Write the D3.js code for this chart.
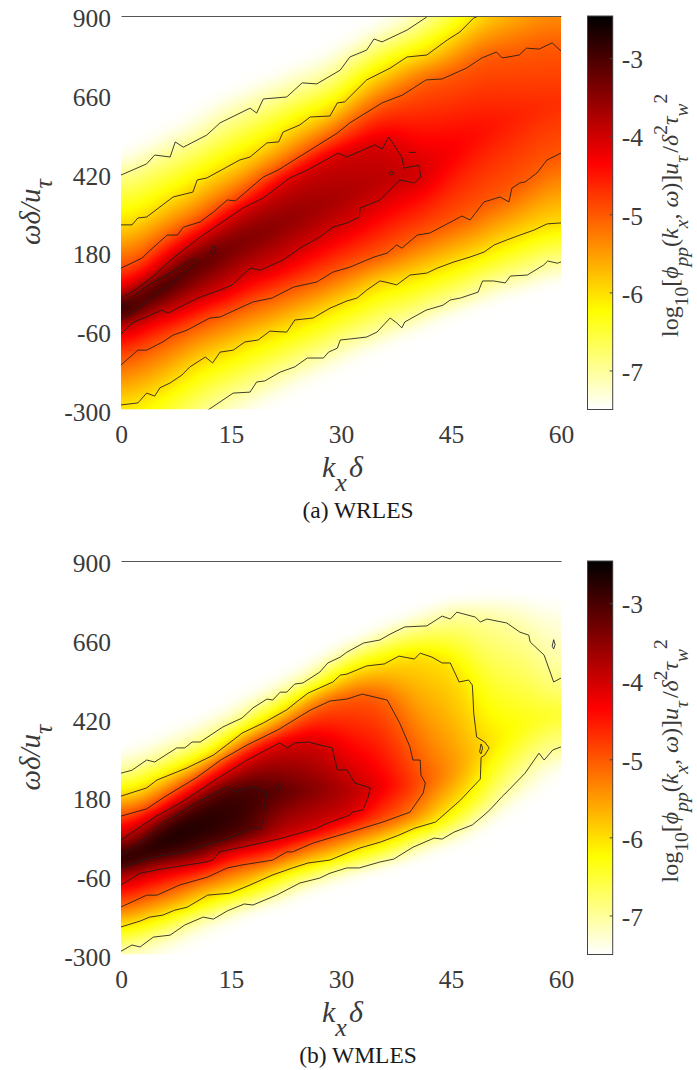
<!DOCTYPE html>
<html><head><meta charset="utf-8">
<script src="https://cdn.jsdelivr.net/npm/d3@7"></script>
<style>html,body{margin:0;padding:0;background:#fff}svg{display:block}text{font-family:"Liberation Serif",serif}</style>
</head><body><svg id="c" width="697" height="1070"></svg>
<script>
// ---------- axis content ----------
const kTicks=[0,15,30,45,60];
const wTicks=[-300,-60,180,420,660,900];
const barTicks=[-7,-6,-5,-4,-3];
const barDomain=[-7.5,-2.46];
const captions=["(a) WRLES","(b) WMLES"];
// hot colormap, reversed: value stops and colours
const colorStops=[-7.5,-6.24,-4.35,-2.46];
const colorHues=["#ffffff","#ffff00","#ff0000","#000000"];

// ---------- (a) WRLES: contour crossings [k, omega] ----------
const aEdgeUp=[[0,470],[15,670],[30,810],[42,975],[60,1240]];
const aEdgeLo=[[0,-540],[15,-340],[30,-165],[45,-15],[60,95]];
const aUp7=[[0,415],[3.5,449],[4.6,476],[6.7,470],[7.4,516],[8.5,500],[11.7,537],[13.5,574],[17.6,619],[18.5,604],[19.4,647],[22.6,653],[24.7,696],[26.7,693],[29.9,735],[31.2,775],[33.5,796],[34.5,830],[35.6,821],[39,857],[41.7,897],[60,1170]];
const aLo7=[[0,-480],[12.1,-298],[13.5,-277],[15.3,-250],[17.6,-247],[18.5,-216],[19.6,-213],[21.7,-186],[23.7,-170],[25.4,-143],[27.6,-143],[28.3,-125],[29.5,-113],[29.9,-88],[31.2,-85],[33.5,-79],[34.9,-64],[36.7,-21],[37.6,-36],[38.3,-51],[38.7,-33],[41.6,3],[43.9,18],[44.9,34],[46.3,40],[48.7,58],[49.3,92],[50.8,92],[52.4,86],[53.1,107],[55.4,110],[57.6,140],[58.2,153],[59.5,146],[60,150]];
const aUp6=[[0,263],[1.5,263],[2.3,284],[3.5,287],[7.1,348],[9.8,363],[10.4,400],[11.7,406],[16.2,461],[17.6,470],[19.9,513],[21.5,516],[22.1,546],[24.4,568],[25.8,592],[28.5,595],[29.5,635],[30.5,638],[33.5,705],[36.7,741],[39,775],[41.7,781],[44.5,827],[46.2,851],[48.1,894],[49.4,905],[60,1070]];
const aLo6=[[0,-286],[2.3,-280],[3.5,-250],[4.6,-259],[5.3,-234],[6.7,-219],[8.3,-195],[9.4,-170],[11.5,-140],[12.5,-158],[13.5,-125],[15.3,-119],[16.9,-94],[18.7,-88],[20.3,-61],[22.6,-64],[23.7,-27],[26.2,-21],[28.5,9],[30.8,31],[32.2,40],[33.5,64],[35.3,92],[36,89],[37.6,80],[39.4,110],[41.7,116],[43.1,131],[45.4,150],[47.6,165],[49.5,180],[50.9,202],[52.6,217],[54.4,232],[56.3,247],[58.1,266],[60,269]];
const aUp5=[[0,131],[2.9,162],[3.7,180],[6.3,232],[7.7,232],[8.5,256],[10.8,272],[12.6,302],[14.5,339],[15.6,336],[19.4,409],[21.4,430],[24.7,476],[29.5,543],[31.2,574],[35.6,635],[38.4,659],[41.6,705],[43.8,708],[47.1,741],[49.2,772],[51.2,790],[52,772],[54.3,781],[55.3,802],[57,799],[58.8,818],[60,793]];
const aLo5=[[0,-164],[2.3,-119],[3.5,-119],[5.7,-94],[7.1,-73],[9,-58],[12.1,-21],[13.5,-18],[18,28],[20.6,40],[23.5,73],[26.7,89],[28.9,119],[31.2,134],[34.5,165],[36.3,177],[37.6,202],[38.3,192],[40.4,232],[42.1,238],[46.5,290],[47.6,278],[49.5,333],[51.7,348],[52.9,333],[53.3,375],[54.4,391],[55.1,394],[56.7,421],[58.1,461],[60,482]];
const aUp4=[[0,40],[1.9,64],[4.6,110],[7.1,162],[10.8,226],[16.6,314],[19.4,345],[23,406],[25.4,430],[29.6,482],[30.8,470],[34.6,507],[35.6,494],[36.5,531],[38.3,470],[38.6,436],[40.6,445],[40.9,409]];
const aLo4=[[0,-70],[1.5,-36],[5.6,3],[6.4,-6],[10.5,40],[13.8,67],[15.1,79],[17.6,131],[19,125],[22.1,156],[24.4,192],[27.1,226],[28.9,256],[30.8,269],[32.5,287],[32.6,314],[35.3,339],[38,400],[40,391],[40.9,409]];
const aUp3=[[0,9],[1.9,49],[3.7,80],[7,119],[9.8,159],[10.5,150]];
const aLo3=[[0,-27],[1,-12],[2.9,19],[4.6,49],[7,86],[10.5,150]];
const aRidgeK=[0,3,6,10.5,15,20,25,30,36,40.9,45,50,55,60];
const aRidgeW=[-8,40,85,150,195,250,300,355,400,409,490,560,600,640];
const aRidgeV=[-2.6,-2.55,-2.7,-3,-3.25,-3.4,-3.55,-3.7,-3.85,-4,-4.25,-4.45,-4.6,-4.7];
const aLoops=[[[12.2,180],[12.6,200],[13,190],[12.6,172],[12.2,180]],[[36.6,420],[36.9,428],[37.2,420],[36.9,413],[36.6,420]],[[39.3,484],[40.2,484]]];

// ---------- (b) WMLES ----------
const bEdgeUp=[[0,315],[15,460],[30,640],[40,745],[45,790],[52,800],[60,780]];
const bEdgeLo=[[0,-340],[5,-310],[15,-195],[30,-75],[45,30],[50,120],[55,180],[60,280]];
const bUp7=[[0,253],[1.5,262],[3.5,293],[4.6,287],[7.6,330],[8.7,330],[9.7,348],[10.8,348],[13.9,394],[16.5,421],[18,452],[19.9,479],[20.7,476],[21.7,500],[22.6,500],[23.7,525],[24.8,528],[27.1,561],[28.2,589],[29.9,607],[30.8,622],[33.1,650],[35.3,659],[36.7,677],[38.7,699],[41.7,702],[43.8,732],[44.9,723],[45.8,744],[48.3,729],[49,714],[49.9,723],[52.6,711],[54.4,683],[55.6,674],[55.8,653],[57.7,613],[59,531],[60,543]];
const bLo7=[[0,-290],[1.5,-271],[2.6,-277],[4.4,-247],[6.7,-241],[8.7,-210],[11.2,-186],[12.6,-192],[14.5,-167],[16.8,-146],[18,-149],[21.2,-119],[24.4,-82],[27.1,-67],[28.5,-52],[30.8,-36],[32.5,-36],[35.3,-18],[37.2,-9],[39.8,27],[42.7,55],[43.8,52],[45.4,73],[47.9,95],[49.5,125],[50.3,141],[51.9,180],[52.9,202],[55.1,253],[57,314],[57.7,293],[58.9,324],[60,333]];
const bUp6=[[0,183],[3.5,208],[4.9,232],[9,269],[12.6,308],[15.3,354],[16.5,375],[19.4,406],[22.6,446],[24.1,473],[25.5,497],[28.9,531],[29.9,552],[30.8,555],[33.5,580],[35.9,586],[37.9,610],[40,601],[40.8,619],[42.4,607],[43.8,589],[44.9,589],[45.8,546],[46.1,531],[47.4,537],[47.9,522],[48,484],[48.1,436],[48.5,363],[49.6,348],[50.2,330]];
const bLo6=[[0,-216],[2.6,-198],[3.9,-186],[5.7,-180],[7.3,-165],[9,-156],[11.8,-119],[14.9,-113],[17.6,-88],[20.6,-58],[23.4,-36],[25.5,-21],[28.5,-12],[31.2,13],[32.6,25],[35.4,43],[37.9,64],[40,85],[42.9,104],[46.3,171],[47.6,202],[49,235],[49.05,268],[49.1,301],[49.6,308],[50.2,330]];
const bUp5=[[0,122],[3.5,144],[5.9,180],[10.4,241],[13.6,293],[17.2,339],[21.4,385],[25.8,445],[28.5,473],[30.8,479],[32.9,494],[36.3,476],[38,406],[39.4,333],[39.8,293],[40.8,293],[40.9,247],[41.5,223]];
const bLo5=[[0,-155],[3.5,-119],[4.9,-119],[8,-88],[11.8,-64],[14.5,-36],[16.5,-27],[20.7,-12],[22.6,13],[23.4,13],[26.2,40],[28.9,58],[31.2,73],[35.7,104],[39.4,134],[41.2,192],[41.5,223]];
const bUp4=[[0,49],[4.6,119],[8.3,165],[12.8,232],[17.2,293],[21.6,345],[22.7,330],[23.7,345],[25.5,348],[28.8,330],[29.5,263],[30.8,263],[31.9,223],[34,208]];
const bLo4=[[0,-88],[2.6,-52],[5.3,-40],[11.6,-18],[12.5,-12],[13.4,13],[17.9,34],[22,55],[26.7,85],[28.2,101],[31.2,125],[31.5,134],[33,141],[33.7,180],[34,208]];
const bUp3=[[0,3],[1.9,28],[6,104],[10.5,165],[14.6,211],[15.5,195],[17.9,211],[19.9,192]];
const bLo3=[[0,-36],[3.7,-6],[8.3,12],[15.1,58],[18,88],[19,83],[19.4,110],[19.5,147],[19.9,192]];
const bRidgeK=[0,5,10,15,19.9,25,30,34,38,41.5,46,50.2,55,60];
const bRidgeW=[-15,45,90,135,192,200,205,208,215,223,270,330,400,440];
const bRidgeV=[-2.6,-2.55,-2.65,-2.8,-3,-3.35,-3.7,-4,-4.55,-5,-5.5,-6,-6.3,-6.5];
const bLoops=[[[21.2,205],[21.5,222],[21.8,210],[21.5,200],[21.2,205]],[[58.8,640],[59,660],[59.2,645],[59,632],[58.8,640]],[[48.9,318],[49.1,342],[49.3,330],[49.1,312],[48.9,318]]];

// ---------- layout ----------
const plotLeft=121, plotRight=561, plotH=393.5, barLeft=587.5, barRight=612.7;
const panels=[
 {top:16, off:0, cap:captions[0], id:"a", capX:358,
  bands:[[-7.5,aEdgeLo,aEdgeUp],[-7,aLo7,aUp7],[-6,aLo6,aUp6],[-5,aLo5,aUp5],[-4,aLo4,aUp4],[-3,aLo3,aUp3]],
  rk:aRidgeK,rw:aRidgeW,rv:aRidgeV,loops:aLoops},
 {top:561, off:545.4, cap:captions[1], id:"b", capX:358,
  bands:[[-7.5,bEdgeLo,bEdgeUp],[-7,bLo7,bUp7],[-6,bLo6,bUp6],[-5,bLo5,bUp5],[-4,bLo4,bUp4],[-3,bLo3,bUp3]],
  rk:bRidgeK,rw:bRidgeW,rv:bRidgeV,loops:bLoops}
];
const hot=d3.scaleLinear().domain(colorStops).range(colorHues).clamp(true);
const svg=d3.select("#c");
const ink="#3a3a3a";
const x=d3.scaleLinear().domain([0,60]).range([plotLeft,plotRight]);

function rich(parent,px,py,rot,parts){
  const g=parent.append("text").attr("transform",`translate(${px},${py}) rotate(${rot})`).attr("fill",ink);
  let cur=0;
  parts.forEach(p=>{
    const t=g.append("tspan").text(p.t).attr("font-size",p.s).attr("dy",(p.d||0)-cur).attr("dx",p.g||0);
    if(p.i)t.attr("font-style","italic");
    cur=p.d||0;
  });
  return g;
}
function scaleOf(arr){return d3.scaleLinear().domain(arr.map(p=>p[0])).range(arr.map(p=>p[1]));}

panels.forEach(P=>{
  const y=d3.scaleLinear().domain([-300,900]).range([P.top+plotH,P.top]);
  const root=svg.append("g").attr("class","panel-"+P.id);
  const clipId="clip"+P.id;
  root.append("clipPath").attr("id",clipId).append("rect")
    .attr("x",plotLeft).attr("y",P.top).attr("width",plotRight-plotLeft).attr("height",plotH);

  // heat field: each column built from that column's contour crossings
  const cols=146, rows=131;
  const grid=new Float64Array(cols*rows);
  const scales=P.bands.map(b=>({v:b[0],lo:scaleOf(b[1]),up:scaleOf(b[2]),loEnd:b[1][b[1].length-1][0],upEnd:b[2][b[2].length-1][0]}));
  const rW=d3.scaleLinear().domain(P.rk).range(P.rw), rV=d3.scaleLinear().domain(P.rk).range(P.rv);
  for(let i=0;i<cols;i++){
    const k=x.invert(plotLeft+(i+.5)/cols*(plotRight-plotLeft));
    const mid=rW(k), pts=[{w:mid,v:rV(k)}];
    scales.forEach(s=>{
      if(k<=s.loEnd){const w=s.lo(k);if(w<mid)pts.push({w,v:s.v});}
      if(k<=s.upEnd){const w=s.up(k);if(w>mid)pts.push({w,v:s.v});}
    });
    pts.sort((a,b)=>a.w-b.w);
    const col=d3.scaleLinear().domain(pts.map(p=>p.w)).range(pts.map(p=>p.v)).clamp(true);
    for(let j=0;j<rows;j++){
      grid[j*cols+i]=col(y.invert(P.top+(j+.5)/rows*plotH));
    }
  }
  d3.blur2({data:grid,width:cols,height:rows},4,1);
  const cv=document.createElement("canvas");cv.width=cols;cv.height=rows;
  const ctx=cv.getContext("2d");const img=ctx.createImageData(cols,rows);
  grid.forEach((v,n)=>{const c=d3.rgb(hot(v));const o=n*4;img.data[o]=c.r;img.data[o+1]=c.g;img.data[o+2]=c.b;img.data[o+3]=255;});
  ctx.putImageData(img,0,0);
  root.append("image").attr("href",cv.toDataURL()).attr("x",plotLeft).attr("y",P.top)
    .attr("width",plotRight-plotLeft).attr("height",plotH).attr("preserveAspectRatio","none")
    .attr("clip-path",`url(#${clipId})`);

  // contour lines
  const path=d3.line().x(d=>x(d[0])).y(d=>y(d[1]));
  const lines=root.append("g").attr("clip-path",`url(#${clipId})`).attr("fill","none").attr("stroke","#1c1c1c").attr("stroke-width",0.85);
  P.bands.filter(b=>b[0]>-7.5).forEach(b=>{
    lines.append("path").attr("d",path(b[1]));
    lines.append("path").attr("d",path(b[2]));
  });
  P.loops.forEach(l=>lines.append("path").attr("d",path(l)));

  // axes: labels only, plus the single line along the top
  const axL=d3.axisLeft(y).tickValues(wTicks).tickFormat(String).tickSize(0).tickPadding(10);
  const gL=root.append("g").attr("transform",`translate(${plotLeft},0)`).call(axL);
  gL.select(".domain").remove();
  gL.selectAll("text").attr("font-size",25.5).attr("fill",ink).attr("dy","0.42em").attr("font-family","Liberation Serif");
  const axB=d3.axisBottom(x).tickValues(kTicks).tickFormat(String).tickSize(0).tickPadding(0);
  const gB=root.append("g").attr("transform",`translate(0,${P.top+plotH})`).call(axB);
  gB.select(".domain").remove();
  gB.selectAll("text").attr("font-size",25.5).attr("fill",ink).attr("dy",0).attr("y",33.5).attr("font-family","Liberation Serif");
  const axT=d3.axisTop(x).tickValues([]).tickSize(0);
  root.append("g").attr("transform",`translate(0,${P.top})`).call(axT).select(".domain").attr("stroke","#555").attr("stroke-width",1);

  // colour bar
  const bar=d3.scaleLinear().domain(barDomain).range([P.top+plotH,P.top]);
  const steps=d3.range(P.top,P.top+plotH,1);
  root.append("g").attr("shape-rendering","crispEdges").selectAll("rect").data(steps).join("rect")
    .attr("x",barLeft).attr("width",barRight-barLeft).attr("y",d=>d).attr("height",1)
    .attr("fill",d=>hot(bar.invert(d+.5)));
  root.append("rect").attr("x",barLeft).attr("y",P.top).attr("width",barRight-barLeft).attr("height",plotH)
    .attr("fill","none").attr("stroke","#444").attr("stroke-width",1);
  const axR=d3.axisRight(bar).tickValues(barTicks).tickFormat(String).tickSize(-3).tickPadding(9);
  const gR=root.append("g").attr("transform",`translate(${barRight},0)`).call(axR);
  gR.select(".domain").remove();
  gR.selectAll("line").attr("stroke","#444");
  gR.selectAll("text").attr("font-size",25.5).attr("fill",ink).attr("dy","0.38em").attr("font-family","Liberation Serif");

  // titles
  const o=P.off;
  rich(root,322,477+o,0,[{t:"k",s:30,i:1},{t:"x",s:26,i:1,d:14},{t:"δ",s:30,i:1,d:0,g:2}]);
  rich(root,40,245+o,-90,[{t:"ωδ/u",s:29,i:1},{t:"τ",s:26,i:1,d:12}]);
  rich(root,678,337+o,-90,[
    {t:"log",s:24},{t:"10",s:19.5,d:10},{t:"[",s:24},{t:"ϕ",s:24,i:1},{t:"pp",s:19.5,i:1,d:10},
    {t:"(",s:24},{t:"k",s:24,i:1},{t:"x",s:19.5,i:1,d:10},{t:", ",s:24},{t:"ω",s:24,i:1},{t:")]",s:24},
    {t:"u",s:24,i:1},{t:"τ",s:19.5,i:1,d:10},{t:"/",s:24,g:3},{t:"δ",s:24,i:1},{t:"2",s:19.5,d:-11},
    {t:"τ",s:24,i:1},{t:"w",s:19.5,i:1,d:10},{t:"2",s:19.5,d:-11}
  ]);
  root.append("text").text(P.cap).attr("x",P.capX).attr("y",518+o).attr("text-anchor","middle")
    .attr("font-size",23.5).attr("fill","#1a1a1a");
});
</script></body></html>
